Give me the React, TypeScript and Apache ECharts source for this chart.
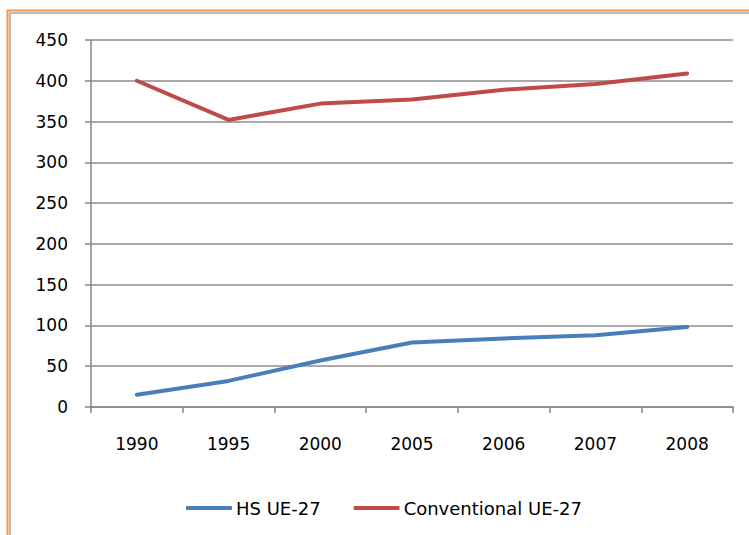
import React, { useEffect, useRef } from "react";
import * as echarts from "echarts";

const years = ["1990", "1995", "2000", "2005", "2006", "2007", "2008"];
const hsUE27 = [15, 32, 57, 79, 84, 88, 98];
const conventionalUE27 = [400, 352, 372, 377, 389, 396, 409];

const FONT = "DejaVu Sans";

export default function App() {
  const ref = useRef<HTMLDivElement>(null);

  useEffect(() => {
    if (!ref.current) return;
    const chart = echarts.init(ref.current, undefined, { renderer: "svg" });
    chart.setOption({
      animation: false,
      backgroundColor: "#ffffff",
      graphic: [
        {
          type: "rect",
          shape: { x: 7.5, y: 10.5, width: 900, height: 700 },
          style: { fill: "none", stroke: "#F79646", lineWidth: 2 },
          silent: true,
        },
        {
          type: "rect",
          shape: { x: 10, y: 13, width: 900, height: 700 },
          style: { fill: "none", stroke: "#A6A6A6", lineWidth: 1.5 },
          silent: true,
        },
      ],
      grid: { left: 91, right: 16, top: 40, bottom: 128, containLabel: false },
      legend: {
        left: 181,
        top: 494,
        icon: "roundRect",
        itemWidth: 46,
        itemHeight: 4,
        itemGap: 33,
        textStyle: { fontFamily: FONT, fontSize: 18, color: "#000", padding: [0, 0, 0, -1] },
        data: ["HS UE-27", "Conventional UE-27"],
      },
      xAxis: {
        type: "category",
        data: years,
        boundaryGap: true,
        axisLine: { lineStyle: { color: "#868686", width: 1.5 } },
        axisTick: { show: true, length: 6, lineStyle: { color: "#868686", width: 1.5 } },
        axisLabel: { fontFamily: FONT, fontSize: 17, color: "#000", margin: 28 },
      },
      yAxis: {
        type: "value",
        min: 0,
        max: 450,
        interval: 50,
        axisLine: { show: true, lineStyle: { color: "#868686", width: 1.5 } },
        axisTick: { show: true, length: 6, lineStyle: { color: "#868686", width: 1.5 } },
        splitLine: { show: true, lineStyle: { color: "#8C8C8C", width: 1.5 } },
        axisLabel: { fontFamily: FONT, fontSize: 17, color: "#000", margin: 23 },
      },
      series: [
        {
          name: "HS UE-27",
          type: "line",
          data: hsUE27,
          symbol: "none",
          color: "#4A7EBB",
          lineStyle: { width: 4, color: "#4A7EBB", cap: "round" },
        },
        {
          name: "Conventional UE-27",
          type: "line",
          data: conventionalUE27,
          symbol: "none",
          color: "#BE4B48",
          lineStyle: { width: 4, color: "#BE4B48", cap: "round" },
        },
      ],
    });
    return () => chart.dispose();
  }, []);

  return (
    <div
      ref={ref}
      style={{ position: "absolute", left: 0, top: 0, width: 749, height: 535 }}
    />
  );
}
